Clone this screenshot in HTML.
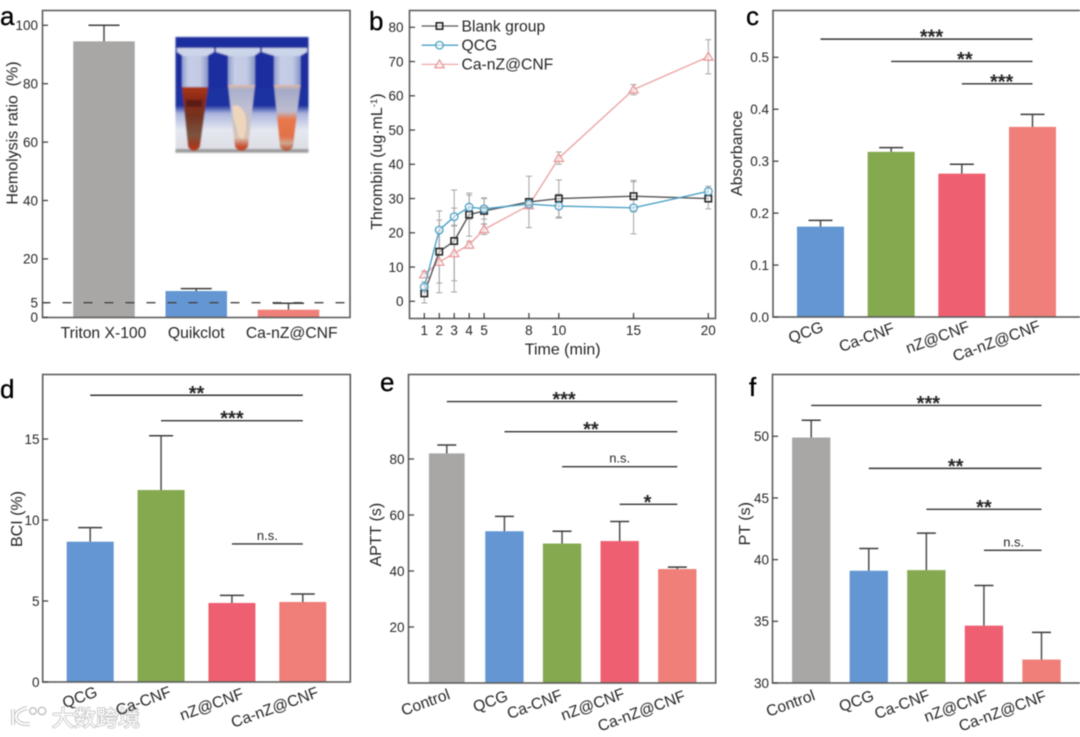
<!DOCTYPE html>
<html lang="en">
<head>
<meta charset="utf-8">
<title>Hemostasis bar and line charts</title>
<style>
html,body{margin:0;padding:0;background:#fff;}
body{width:1080px;height:737px;overflow:hidden;}
svg{display:block;font-family:"Liberation Sans","Noto Sans CJK SC",sans-serif;filter:blur(0.4px);}
text{fill:#262626;white-space:pre;}
.tick{font-size:13.5px;}
.title{font-size:16px;}
.cat{font-size:15.7px;}
.letter{font-size:26px;fill:#000;stroke:#000;stroke-width:0.3px;}
.frame{fill:none;stroke:#5e5e5e;stroke-width:1.6;}
</style>
</head>
<body>
<svg id="figure" width="1080" height="737" viewBox="0 0 1080 737" xmlns="http://www.w3.org/2000/svg">
  <defs>
    <linearGradient id="photoBg" x1="0" y1="0" x2="0" y2="1">
      <stop offset="0" stop-color="#1b2d9e"/>
      <stop offset="0.59" stop-color="#1c309f"/>
      <stop offset="0.66" stop-color="#aab4dc"/>
      <stop offset="0.8" stop-color="#e4e7f0"/>
      <stop offset="0.96" stop-color="#dedfe4"/>
      <stop offset="0.975" stop-color="#8d8d8d"/>
      <stop offset="1" stop-color="#b9b9b9"/>
    </linearGradient>
    <linearGradient id="tubeGlass" x1="0" y1="0" x2="1" y2="0">
      <stop offset="0" stop-color="#8f9dce"/>
      <stop offset="0.25" stop-color="#c6cde6"/>
      <stop offset="0.7" stop-color="#c2cae4"/>
      <stop offset="1" stop-color="#8896c8"/>
    </linearGradient>
    <linearGradient id="liquidDark" x1="0" y1="0" x2="0" y2="1">
      <stop offset="0" stop-color="#a83518"/>
      <stop offset="0.2" stop-color="#8a2a16"/>
      <stop offset="0.45" stop-color="#74321e"/>
      <stop offset="0.75" stop-color="#7a5440"/>
      <stop offset="0.9" stop-color="#9e3a20"/>
      <stop offset="1" stop-color="#bb3a1c"/>
    </linearGradient>
    <linearGradient id="liquidMid" x1="0" y1="0" x2="0" y2="1">
      <stop offset="0" stop-color="#e3b99f"/>
      <stop offset="0.07" stop-color="#a9aecb"/>
      <stop offset="0.35" stop-color="#bfc0d2"/>
      <stop offset="0.8" stop-color="#d8c4b4"/>
      <stop offset="0.92" stop-color="#c9583a"/>
      <stop offset="1" stop-color="#b93e22"/>
    </linearGradient>
    <linearGradient id="liquidOrange" x1="0" y1="0" x2="0" y2="1">
      <stop offset="0" stop-color="#e3b99f"/>
      <stop offset="0.07" stop-color="#a4a9c9"/>
      <stop offset="0.4" stop-color="#bdbccf"/>
      <stop offset="0.52" stop-color="#e8784a"/>
      <stop offset="0.78" stop-color="#e2704a"/>
      <stop offset="0.88" stop-color="#d0a78e"/>
      <stop offset="1" stop-color="#b5482a"/>
    </linearGradient>
    <filter id="photoBlur" x="-5%" y="-5%" width="110%" height="110%"><feGaussianBlur stdDeviation="0.7"/></filter>
  </defs>

  <g id="panel-a"></g>
  <g id="inset-photo" filter="url(#photoBlur)">
    <rect x="175.500" y="37" width="133" height="116" fill="url(#photoBg)"/>
    <g>
      <path d="M182 52L208 52L208 87L182 87Z" fill="url(#tubeGlass)"/>
      <path d="M182 87L208 87L200 147Q194 155 188 147Z" fill="url(#liquidDark)"/>
      <rect x="186" y="100" width="16" height="7" fill="#4a1a14" opacity="0.7"/>
      <path d="M177 48L214 48L214 52L207 56L183 56L177 52Z" fill="#cdd5ea"/>
    </g>
    <g>
      <path d="M228 52L255 52L255 85L228 85Z" fill="url(#tubeGlass)"/>
      <path d="M228 85L255 85L248 147Q241.500 155 235 147Z" fill="url(#liquidMid)"/>
      <path d="M233 106Q240 103 245 114Q248 126 244 138Q238 141 237 128Q232 118 233 106Z" fill="#eed6bc"/>
      <path d="M216 48L260 48L260 52L254 56L229 56L216 52Z" fill="#cdd5ea"/>
    </g>
    <g>
      <path d="M274 52L300.500 52L300.500 85L274 85Z" fill="url(#tubeGlass)"/>
      <path d="M274 85L300.500 85L293 147Q286.500 155 280 147Z" fill="url(#liquidOrange)"/>
      <path d="M262 48L307 48L307 52L300 56L275 56L262 52Z" fill="#cdd5ea"/>
    </g>
  </g>
  <g id="panel-b"></g>
  <g id="panel-c"></g>
  <g id="watermark">
    <path d="M13 709L13 725M27 708Q15 711 16 718Q18 725 30 724" fill="none" stroke="#c4c4c4" stroke-width="4"/>
    <path d="M13 709L13 725M27 708Q15 711 16 718Q18 725 30 724" fill="none" stroke="#fff" stroke-width="2"/>
    <circle cx="33" cy="711" r="3.300" fill="#fff" stroke="#c4c4c4" stroke-width="1.500"/>
    <circle cx="42" cy="711" r="3.800" fill="#fff" stroke="#c4c4c4" stroke-width="1.500"/>
    <text x="52" y="726" font-size="22" style="fill:#fff;stroke:#bcbcbc;stroke-width:1.4px;paint-order:stroke;">大数跨境</text>
  </g>
  <g id="panel-d"></g>
  <g id="panel-e"></g>
  <g id="panel-f"></g>

  <text class="letter" x="0" y="25">a</text>
  <text class="letter" x="369" y="30">b</text>
  <text class="letter" x="746" y="25">c</text>
  <text class="letter" x="0" y="398">d</text>
  <text class="letter" x="380" y="391">e</text>
  <text class="letter" x="749" y="396">f</text>

  <text class="title" transform="translate(17.500,133) rotate(-90)" text-anchor="middle">Hemolysis ratio  (%)</text>
  <text class="title" transform="translate(382,161.700) rotate(-90)" text-anchor="middle">Thrombin (ug·mL<tspan font-size="9.500" dy="-5">-1</tspan><tspan dy="5">)</tspan></text>
  <text class="title" x="562.700" y="354.500" text-anchor="middle">Time (min)</text>
  <text class="title" transform="translate(742,153.300) rotate(-90)" text-anchor="middle">Absorbance</text>
  <text class="title" transform="translate(22,519) rotate(-90)" text-anchor="middle">BCI (%)</text>
  <text class="title" transform="translate(381,534.700) rotate(-90)" text-anchor="middle">APTT (s)</text>
  <text class="title" transform="translate(750,523.700) rotate(-90)" text-anchor="middle">PT (s)</text>
</svg>

<script>
// ---------- Panel a ----------
const aCategories = ['Triton X-100', 'Quikclot', 'Ca-nZ@CNF'];
const aValues = [94.5, 9, 2.6];
const aErrors = [5.5, 0.8, 2.2];
const aTicks = [0, 5, 20, 40, 60, 80, 100];
const aThreshold = 5;

// ---------- Panel b ----------
const bTimes = [1, 2, 3, 4, 5, 8, 10, 15, 20];
const bTicks = [0, 10, 20, 30, 40, 50, 60, 70, 80];
const bBlank = [2.3, 14.5, 17.6, 25.3, 26.4, 29, 30, 30.7, 30];
const bBlankErr = [2.8, 9.2, 14.9, 6.3, 3.8, 7.5, 5.4, 4.6, 3];
const bQcg = [4.2, 20.8, 24.7, 27.5, 27, 28.4, 27.8, 27.3, 32.1];
const bQcgErr = [1.5, 5.6, 2.5, 3.5, 3, 1, 3.5, 7.6, 1.5];
const bCa = [7.8, 11.5, 14, 16.5, 21, 28, 41.8, 61.8, 71.4];
const bCaErr = [1, 9, 8, 1, 1.5, 1, 1.8, 1.5, 5];
const bLegend = ['Blank group', 'QCG', 'Ca-nZ@CNF'];

// ---------- Panel c ----------
const cCategories = ['QCG', 'Ca-CNF', 'nZ@CNF', 'Ca-nZ@CNF'];
const cValues = [0.174, 0.318, 0.276, 0.366];
const cErrors = [0.012, 0.008, 0.018, 0.024];
const cTicks = [0.0, 0.1, 0.2, 0.3, 0.4, 0.5];
const cSigFrom = [0, 1, 2];
const cSigTo = [3, 3, 3];
const cSigLevel = [0.535, 0.492, 0.449];
const cSigText = ['***', '**', '***'];

// ---------- Panel d ----------
const dCategories = ['QCG', 'Ca-CNF', 'nZ@CNF', 'Ca-nZ@CNF'];
const dValues = [8.66, 11.85, 4.88, 4.94];
const dErrors = [0.87, 3.35, 0.47, 0.49];
const dTicks = [0, 5, 10, 15];
const dSigFrom = [0, 1, 2];
const dSigTo = [3, 3, 3];
const dSigLevel = [17.7, 16.13, 8.52];
const dSigText = ['**', '***', 'n.s.'];

// ---------- Panel e ----------
const eCategories = ['Control', 'QCG', 'Ca-CNF', 'nZ@CNF', 'Ca-nZ@CNF'];
const eValues = [82, 54.2, 49.8, 50.7, 40.7];
const eErrors = [3, 5.3, 4.4, 7, 0.7];
const eTicks = [20, 40, 60, 80];
const eSigFrom = [0, 1, 2, 3];
const eSigTo = [4, 4, 4, 4];
const eSigLevel = [100.5, 89.75, 77.25, 63.8];
const eSigText = ['***', '**', 'n.s.', '*'];

// ---------- Panel f ----------
const fCategories = ['Control', 'QCG', 'Ca-CNF', 'nZ@CNF', 'Ca-nZ@CNF'];
const fValues = [49.9, 39.1, 39.15, 34.65, 31.9];
const fErrors = [1.4, 1.8, 3, 3.25, 2.2];
const fTicks = [30, 35, 40, 45, 50];
const fSigFrom = [0, 1, 2, 3];
const fSigTo = [4, 4, 4, 4];
const fSigLevel = [52.5, 47.4, 44.08, 40.76];
const fSigText = ['***', '**', '**', 'n.s.'];

const SVGNS = 'http://www.w3.org/2000/svg';
function make(tag, attrs, parent) {
  const node = document.createElementNS(SVGNS, tag);
  for (const k in attrs) node.setAttribute(k, attrs[k]);
  parent.appendChild(node);
  return node;
}
function linear(d0, d1, r0, r1) {
  return function (v) { return r0 + (v - d0) * (r1 - r0) / (d1 - d0); };
}
const palette4 = ['#6396d2', '#84a94f', '#ee6071', '#ef7f78'];
const palette5 = ['#a8a7a6', '#6396d2', '#84a94f', '#ee6071', '#ef7f78'];
const palette3 = ['#a8a7a6', '#6396d2', '#ef7f78'];

function drawFrame(g, box) {
  const r = make('rect', { x: box.l, y: box.t, width: box.r - box.l, height: box.b - box.t, class: 'frame' }, g);
  
  
}
function drawYTicks(g, box, ticks, y, labelRight, digits) {
  ticks.forEach(function (t) {
    const line = make('line', { x1: box.l, x2: box.l + 5.5, y1: y(t), y2: y(t), stroke: '#444', 'stroke-width': 1.3 }, g);
    
    
    const label = make('text', { class: 'tick', x: labelRight, y: y(t) + 4.8, 'text-anchor': 'end' }, g);
    
    
    label.textContent = t.toFixed(digits);
  });
}
function drawBars(g, opt) {
  opt.values.forEach(function (v, i) {
    const cx = opt.x(i);
    const yTop = opt.y(v);
    const yErr = opt.y(v + opt.errors[i]);
    const w = (i === 0 && opt.firstWidth) ? opt.firstWidth : opt.width;
    const bar = make('rect', { x: cx - w / 2, y: yTop, width: w, height: opt.base - yTop, fill: opt.colors[i] }, g);
    
    
    const stem = make('line', { x1: cx, x2: cx, y1: yTop, y2: yErr, stroke: '#4c4c4c', 'stroke-width': 1.5 }, g);
    
    
    const cap = make('line', { x1: cx - opt.cap, x2: cx + opt.cap, y1: yErr, y2: yErr, stroke: '#3c3c3c', 'stroke-width': 1.5 }, g);
    
    
  });
}
function drawCategories(g, opt) {
  opt.categories.forEach(function (c, i) {
    const cx = opt.x(i) + opt.dx[i];
    const label = make('text', { class: 'cat', 'text-anchor': 'middle', 'dominant-baseline': 'central', transform: 'translate(' + cx + ',' + opt.ly[i] + ') rotate(-20)' }, g);
    
    
    label.textContent = c;
  });
}
function drawSig(g, opt) {
  opt.from.forEach(function (f, i) {
    const x1 = opt.x(f);
    const x2 = opt.x(opt.to[i]);
    const yy = opt.y(opt.level[i]);
    const line = make('line', { x1: x1, x2: x2, y1: yy, y2: yy, stroke: '#333', 'stroke-width': 1.4 }, g);
    
    
    const isNs = opt.text[i] === 'n.s.';
    const tx = x2 - (x2 - x1) / 2 + opt.textShift[i];
    const label = make('text', { x: tx, y: isNs ? yy - 4 : yy + 4.5, 'text-anchor': 'middle', 'font-size': isNs ? 13 : 20, 'font-weight': isNs ? 'normal' : 'bold', 'letter-spacing': 0 }, g);
    
    
    label.textContent = opt.text[i];
  });
}

// ---------- Draw panel a ----------
(function () {
  const g = document.getElementById('panel-a');
  const box = { l: 42.5, r: 350, t: 10.5, b: 317.5 };
  const y = linear(0, 100, 317.3, 25.3);
  const x = linear(0, 2, 104, 288.5);
  drawBars(g, { values: aValues, errors: aErrors, x: x, y: y, base: 317.3, width: 61.5, cap: 15.5, colors: palette3 });
  drawFrame(g, box);
  drawYTicks(g, box, aTicks, y, 38, 0);
  const dash = make('line', { x1: 42.5, x2: 350, y1: y(aThreshold), y2: y(aThreshold), stroke: '#444', 'stroke-width': 1.4, 'stroke-dasharray': '9 12', 'stroke-dashoffset': '-20' }, g);
  
  
  const labelShift = [-0.5, 0, 3.2];
  aCategories.forEach(function (c, i) {
    const t = make('text', { class: 'cat', x: x(i) + labelShift[i], y: 338, 'text-anchor': 'middle' }, g);
    
    
    t.textContent = c;
  });
})();

// ---------- Draw panel b ----------
(function () {
  const g = document.getElementById('panel-b');
  const box = { l: 409.5, r: 715.5, t: 10.5, b: 318.5 };
  const y = linear(0, 80, 301.3, 27.3);
  const x = linear(1, 20, 424.3, 708.3);
  drawFrame(g, box);
  drawYTicks(g, box, bTicks, y, 403.5, 0);
  bTimes.forEach(function (t) {
    const tick = make('line', { x1: x(t), x2: x(t), y1: box.b, y2: box.b - 5.5, stroke: '#444', 'stroke-width': 1.3 }, g);
    
    
    const label = make('text', { class: 'tick', x: x(t), y: 335, 'text-anchor': 'middle' }, g);
    
    
    label.textContent = t;
  });
  function marker(parent, kind, cx, cy, color) {
    let m;
    if (kind === 'square') {
      m = make('rect', { x: cx - 3.2, y: cy - 3.2, width: 6.4, height: 6.4 }, parent);
    } else if (kind === 'circle') {
      m = make('circle', { cx: cx, cy: cy, r: 3.8 }, parent);
    } else {
      m = make('path', { d: 'M' + cx + ' ' + (cy - 4.5) + 'L' + (cx + 4.6) + ' ' + (cy + 3.3) + 'L' + (cx - 4.6) + ' ' + (cy + 3.3) + 'Z' }, parent);
    }
    m.setAttribute('fill', 'rgba(255,255,255,0.55)');
    m.setAttribute('stroke', color);
    m.setAttribute('stroke-width', kind === 'square' ? '1.6' : '1.3');
    return m;
  }
  const series = [
    { name: 'ca', values: bCa, err: bCaErr, kind: 'triangle', color: '#e99a9c', line: '#eca6a6' },
    { name: 'blank', values: bBlank, err: bBlankErr, kind: 'square', color: '#262626', line: '#555' },
    { name: 'qcg', values: bQcg, err: bQcgErr, kind: 'circle', color: '#4fa2c6', line: '#4fa2c6' }
  ];
  series.forEach(function (s) {
    s.values.forEach(function (v, i) {
      const cx = x(bTimes[i]);
      const hi = y(v + s.err[i]);
      const lo = y(v - s.err[i]);
      const eb = make('path', { d: 'M' + (cx - 3) + ' ' + hi + 'H' + (cx + 3) + 'M' + cx + ' ' + hi + 'V' + lo + 'M' + (cx - 3) + ' ' + lo + 'H' + (cx + 3), stroke: '#a4a4a4', 'stroke-width': 1, fill: 'none' }, g);
      
      
    });
  });
  series.forEach(function (s) {
    const pts = s.values.map(function (v, i) { return x(bTimes[i]) + ',' + y(v); }).join(' ');
    const line = make('polyline', { points: pts, fill: 'none', stroke: s.line, 'stroke-width': 1.4 }, g);
    
    
    s.values.forEach(function (v, i) {
      const m = marker(g, s.kind, x(bTimes[i]), y(v), s.color);
      
      
    });
  });
  const legendKinds = [series[1], series[2], series[0]];
  bLegend.forEach(function (name, i) {
    const ly = 26 + i * 19.2;
    const s = legendKinds[i];
    const line = make('line', { x1: 421.7, x2: 458.3, y1: ly, y2: ly, stroke: s.line, 'stroke-width': 1.3 }, g);
    
    
    const m = marker(g, s.kind, 439.5, ly, s.color);
    
    
    const t = make('text', { x: 461.5, y: ly + 5.3, 'font-size': 15.7 }, g);
    
    
    t.textContent = name;
  });
})();

// ---------- Draw panel c ----------
(function () {
  const g = document.getElementById('panel-c');
  const box = { l: 773, r: 1082, t: 10.5, b: 317 };
  const y = linear(0, 0.5, 317, 57.3);
  const x = linear(0, 3, 820.5, 1032.5);
  drawBars(g, { values: cValues, errors: cErrors, x: x, y: y, base: 317, width: 47, cap: 12, colors: palette4 });
  drawFrame(g, box);
  drawYTicks(g, box, cTicks, y, 769, 1);
  drawSig(g, { from: cSigFrom, to: cSigTo, level: cSigLevel, text: cSigText, x: x, y: y, textShift: [5, 3, 4.5] });
  drawCategories(g, { categories: cCategories, x: x, dx: [-14.5, -24.3, -24, -35.8], ly: [333, 338, 338, 341.7] });
})();

// ---------- Draw panel d ----------
(function () {
  const g = document.getElementById('panel-d');
  const box = { l: 42.7, r: 350.3, t: 374.5, b: 682 };
  const y = linear(0, 15, 682, 439);
  const x = linear(0, 3, 90.2, 302.8);
  drawBars(g, { values: dValues, errors: dErrors, x: x, y: y, base: 682, width: 47, cap: 12, colors: palette4 });
  drawFrame(g, box);
  drawYTicks(g, box, dTicks, y, 39.5, 0);
  drawSig(g, { from: dSigFrom, to: dSigTo, level: dSigLevel, text: dSigText, x: x, y: y, textShift: [0, 0, 0] });
  drawCategories(g, { categories: dCategories, x: x, dx: [-10.2, -17.5, -20.1, -27.8], ly: [698, 701.7, 705, 708] });
})();

// ---------- Draw panel e ----------
(function () {
  const g = document.getElementById('panel-e');
  const box = { l: 408.5, r: 715.7, t: 374.5, b: 683 };
  const y = linear(0, 80, 683, 459);
  const x = linear(0, 4, 446.8, 677.3);
  drawBars(g, { values: eValues, errors: eErrors, x: x, y: y, base: 683, width: 38.3, firstWidth: 35.7, cap: 9.5, colors: palette5 });
  drawFrame(g, box);
  drawYTicks(g, box, eTicks, y, 404.5, 0);
  drawSig(g, { from: eSigFrom, to: eSigTo, level: eSigLevel, text: eSigText, x: x, y: y, textShift: [2, 0, 0, -1] });
  drawCategories(g, { categories: eCategories, x: x, dx: [-21.1, -13.8, -27.2, -26.7, -35.6], ly: [703, 702, 705, 705, 711.7] });
})();

// ---------- Draw panel f ----------
(function () {
  const g = document.getElementById('panel-f');
  const box = { l: 772.5, r: 1082, t: 374.5, b: 683 };
  const y = linear(30, 50, 683, 436.3);
  const x = linear(0, 4, 811.2, 1041.5);
  drawBars(g, { values: fValues, errors: fErrors, x: x, y: y, base: 683, width: 38.3, cap: 9.5, colors: palette5 });
  drawFrame(g, box);
  drawYTicks(g, box, fTicks, y, 769, 0);
  drawSig(g, { from: fSigFrom, to: fSigTo, level: fSigLevel, text: fSigText, x: x, y: y, textShift: [2, 0.5, 0, 1] });
  drawCategories(g, { categories: fCategories, x: x, dx: [-20.5, -12.1, -24, -27.8, -38.8], ly: [704, 701.7, 705, 706.7, 711.7] });
})();
</script>
</body>
</html>
